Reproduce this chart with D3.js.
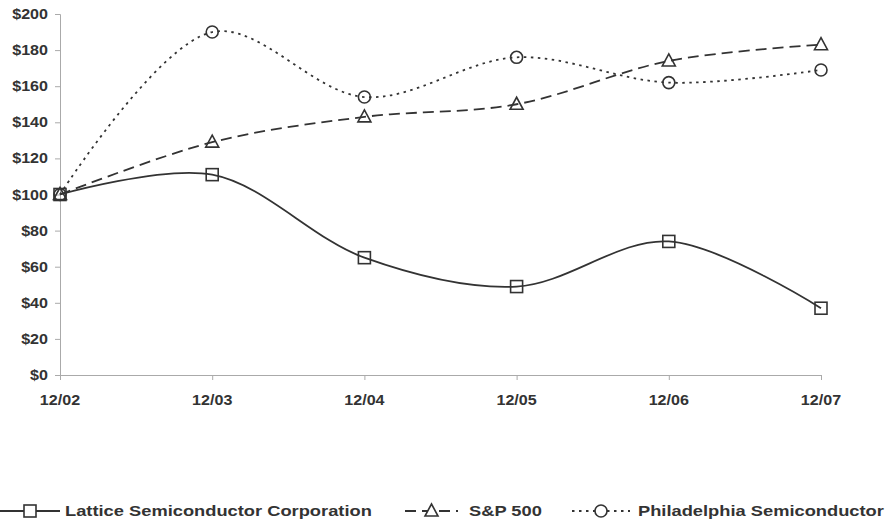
<!DOCTYPE html>
<html>
<head>
<meta charset="UTF-8">
<script src="https://cdnjs.cloudflare.com/ajax/libs/d3/7.8.5/d3.min.js"></script>
<style>
  body { margin: 0; background: #fff; }
  text { font-family: "Liberation Sans", Arial, sans-serif; font-weight: bold; fill: #333; }
</style>
</head>
<body>
<svg id="chart" width="887" height="526"></svg>
<script>
// chart data
var periods = ["12/02", "12/03", "12/04", "12/05", "12/06", "12/07"];
var lattice = [100, 111, 65, 49, 74, 37];
var sp500 = [100, 129, 143, 150, 174, 183];
var philly = [100, 190, 154, 176, 162, 169];
var yTicks = [0, 20, 40, 60, 80, 100, 120, 140, 160, 180, 200];

var series = [
    { name: "Lattice Semiconductor Corporation", values: lattice, dash: null, marker: "square" },
    { name: "S&P 500", values: sp500, dash: "11,6", marker: "triangle" },
    { name: "Philadelphia Semiconductor", values: philly, dash: "2.5,4.5", marker: "circle" }
];

var svg = d3.select("#chart");
var ink = "#333";

var x = d3.scalePoint().domain(periods).range([60, 821]);
var y = d3.scaleLinear().domain([0, 200]).range([375, 14]);

// glyphs in the picture are a bit wider than Liberation Sans, so stretch them
function label(g, tx, ty, str, anchor, size, stretch) {
    g.append("text")
        .attr("transform", "translate(" + tx + "," + ty + ") scale(" + stretch + ",1)")
        .attr("text-anchor", anchor)
        .style("font-size", size + "px")
        .text(str);
}

// axes
svg.append("g").attr("transform", "translate(60,0)")
    .call(d3.axisLeft(y).tickValues(yTicks).tickSize(5).tickFormat(function() { return ""; }));
svg.append("g").attr("transform", "translate(0,375)")
    .call(d3.axisBottom(x).tickSize(5).tickFormat(function() { return ""; }));
svg.selectAll(".domain, .tick line").attr("stroke", "#aaa");

var labels = svg.append("g");
yTicks.forEach(function(v) {
    label(labels, 48, y(v) + 5, "$" + v, "end", 14, 1.15);
});
periods.forEach(function(p) {
    label(labels, x(p), 405, p, "middle", 14, 1.15);
});

// markers
function drawMarker(g, type, cx, cy) {
    if (type === "square") {
        g.append("rect").attr("x", cx - 6).attr("y", cy - 6).attr("width", 12).attr("height", 12);
    } else if (type === "triangle") {
        g.append("path").attr("d", "M" + cx + "," + (cy - 7) + "L" + (cx + 6.5) + "," + (cy + 5) + "L" + (cx - 6.5) + "," + (cy + 5) + "Z");
    } else {
        g.append("circle").attr("cx", cx).attr("cy", cy).attr("r", 6);
    }
}

var line = d3.line()
    .x(function(d, i) { return x(periods[i]); })
    .y(function(d) { return y(d); })
    .curve(d3.curveCatmullRom.alpha(0.5));

series.forEach(function(s) {
    svg.append("path")
        .attr("d", line(s.values))
        .attr("fill", "none")
        .attr("stroke", ink)
        .attr("stroke-width", 1.8)
        .attr("stroke-dasharray", s.dash);
    var mg = svg.append("g").attr("fill", "none").attr("stroke", ink).attr("stroke-width", 1.6);
    s.values.forEach(function(v, i) {
        drawMarker(mg, s.marker, x(periods[i]), y(v));
    });
});

// legend
var legendItems = [
    { x0: 0, x1: 60, text: 65 },
    { x0: 405, x1: 458, text: 469 },
    { x0: 572, x1: 630, text: 638 }
];
var ly = 511;
series.forEach(function(s, i) {
    var it = legendItems[i];
    var g = svg.append("g");
    g.append("line")
        .attr("x1", it.x0).attr("x2", it.x1).attr("y1", ly).attr("y2", ly)
        .attr("stroke", ink).attr("stroke-width", 1.8)
        .attr("stroke-dasharray", s.dash);
    var mg = g.append("g").attr("fill", "#fff").attr("stroke", ink).attr("stroke-width", 1.6);
    drawMarker(mg, s.marker, (it.x0 + it.x1) / 2, ly);
    label(g, it.text, ly + 5, s.name, "start", 15, 1.22);
});
</script>
</body>
</html>
